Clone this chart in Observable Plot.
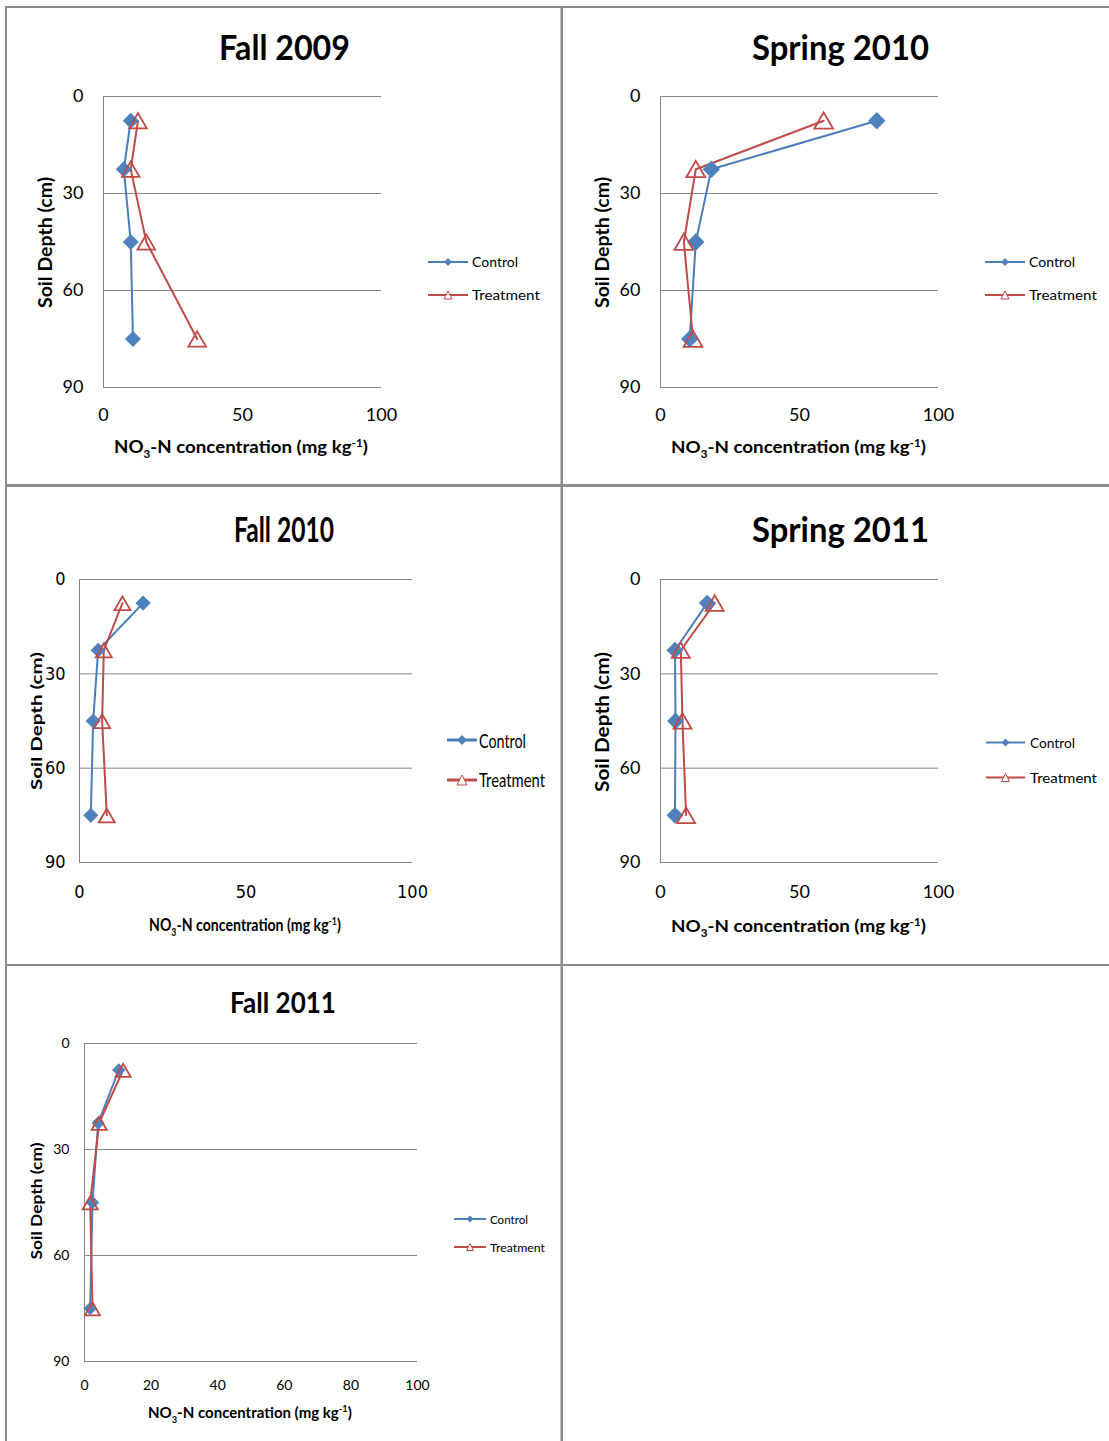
<!DOCTYPE html>
<html><head><meta charset="utf-8">
<script src="https://cdn.jsdelivr.net/npm/d3@7"></script>
<script src="https://cdn.jsdelivr.net/npm/@observablehq/plot@0.6"></script>
<style>
html,body{margin:0;padding:0;background:#fff;}
#root{position:relative;width:1109px;height:1441px;overflow:hidden;background:#fff;}
.pw{position:absolute;}
#overlay{position:absolute;left:0;top:0;pointer-events:none;}
</style></head><body><div id="root"></div>
<script>
// ---------------- data ----------------
const depths = [7.5, 22.5, 45, 75];            // mid-point soil depth (cm)
const seasons = ["Fall 2009", "Spring 2010", "Fall 2010", "Spring 2011", "Fall 2011"];
const seriesNames = ["Control", "Treatment"];
const controlFall2009     = [9.8, 7.3, 9.8, 10.6];
const treatmentFall2009   = [12.4, 9.8, 15.4, 33.7];
const controlSpring2010   = [77.8, 18.3, 12.7, 10.5];
const treatmentSpring2010 = [58.7, 12.7, 8.4, 11.7];
const controlFall2010     = [19.1, 5.6, 4.1, 3.4];
const treatmentFall2010   = [12.9, 7.3, 6.8, 8.2];
const controlSpring2011   = [16.8, 5.2, 5.4, 5.2];
const treatmentSpring2011 = [19.5, 7.3, 7.9, 9.2];
const controlFall2011     = [10.3, 4.1, 2.4, 1.7];
const treatmentFall2011   = [11.6, 4.4, 1.7, 2.4];
const yTicks = [0, 30, 60, 90];
const xTicksCoarse = [0, 50, 100];
const xTicksFine = [0, 20, 40, 60, 80, 100];
const yAxisTitle = "Soil Depth (cm)";

// ---------------- style ----------------
const LATO = "Lato, 'Open Sans', sans-serif";
const NARROW = "'Liberation Sans Narrow', 'DejaVu Sans Condensed', 'Arial Narrow', sans-serif";
const BLUE = "#4A7EBB", BLUEF = "#4F81BD", RED = "#BE4B48", GRID = "#868686", BORDER = "#8c8c8c";

const panels = [
  {s:0, ctrl:controlFall2009, trt:treatmentFall2009, px:103, py:96, pw:278, ph:291, xTicks:xTicksCoarse,
   tickFont:LATO, tickFs:18, yPad:20, xPad:21, dR:7.2, tR:8.4,
   title:{cx:284.5, base:60, w:131, fs:35}, yt:{bx:51.5, cy:242.5, len:131, fs:18}, xt:{cx:241, base:453, len:254, fs:17},
   lg:{x1:428, x2:468, tx:472, y:[262,295], base:[267,300], len:[46,68], fs:14, lw:2, mk:4}},
  {s:1, ctrl:controlSpring2010, trt:treatmentSpring2010, px:660, py:96, pw:278, ph:291, xTicks:xTicksCoarse,
   tickFont:LATO, tickFs:18, yPad:20, xPad:21, dR:7.8, tR:9,
   title:{cx:840.5, base:60, w:177, fs:35}, yt:{bx:608.5, cy:242.5, len:131, fs:18}, xt:{cx:798.5, base:453, len:255, fs:17},
   lg:{x1:985, x2:1025, tx:1029, y:[262,295], base:[267,300], len:[46,68], fs:14, lw:2, mk:4}},
  {s:2, ctrl:controlFall2010, trt:treatmentFall2010, px:79, py:579, pw:333, ph:283, xTicks:xTicksCoarse,
   tickFont:NARROW, tickFs:18, yPad:14, xPad:23, dR:6.8, tR:7.6,
   title:{cx:284, base:542, w:100, fs:35}, yt:{bx:41.5, cy:721, len:138, fs:15}, xt:{cx:245, base:931, len:192, fs:17},
   lg:{x1:447, x2:477, tx:479, y:[740,780], base:[748,787], len:[47,66], fs:20, lw:3, mk:5}},
  {s:3, ctrl:controlSpring2011, trt:treatmentSpring2011, px:660, py:579, pw:278, ph:283, xTicks:xTicksCoarse,
   tickFont:LATO, tickFs:18, yPad:20, xPad:23, dR:7.6, tR:8.6,
   title:{cx:840.5, base:542, w:177, fs:35}, yt:{bx:608.5, cy:722, len:140, fs:18}, xt:{cx:798.5, base:932, len:255, fs:17},
   lg:{x1:986, x2:1025, tx:1030, y:[742.5,777.5], base:[748,783], len:[45,67], fs:14, lw:2, mk:4}},
  {s:4, ctrl:controlFall2011, trt:treatmentFall2011, px:84, py:1043, pw:333, ph:318, xTicks:xTicksFine,
   tickFont:LATO, tickFs:14, yPad:15, xPad:19, dR:6, tR:7.2,
   title:{cx:283, base:1013, w:106, fs:29}, yt:{bx:41.5, cy:1201, len:117, fs:15}, xt:{cx:250, base:1418, len:204, fs:15},
   lg:{x1:454, x2:486, tx:490, y:[1219,1247], base:[1224,1252], len:[38,55], fs:12, lw:2, mk:3.5}}
];

const root = document.getElementById("root");

function drawPanel(p) {
  const mL = 70, mR = 30, mT = 20, mB = 50;
  const ctrl = depths.map((d, i) => ({depth: d, conc: p.ctrl[i], series: seriesNames[0]}));
  const trt = depths.map((d, i) => ({depth: d, conc: p.trt[i], series: seriesNames[1]}));
  const chart = Plot.plot({
    width: p.pw + mL + mR, height: p.ph + mT + mB,
    marginLeft: mL, marginRight: mR, marginTop: mT, marginBottom: mB,
    style: {background: "transparent", fontFamily: p.tickFont, fontSize: p.tickFs + "px", color: "#000", overflow: "visible"},
    x: {domain: [0, 100]},
    y: {domain: [0, 90], reverse: true},
    marks: [
      Plot.gridY(yTicks, {stroke: GRID, strokeOpacity: 1, strokeWidth: 1}),
      Plot.ruleX([0], {stroke: GRID, strokeWidth: 1}),
      Plot.axisY(yTicks, {tickSize: 0, tickPadding: p.yPad, label: null, fontSize: p.tickFs}),
      Plot.axisX(p.xTicks, {tickSize: 0, tickPadding: p.xPad, label: null, fontSize: p.tickFs}),
      Plot.line(ctrl, {x: "conc", y: "depth", stroke: BLUE, strokeWidth: 2}),
      Plot.line(trt, {x: "conc", y: "depth", stroke: RED, strokeWidth: 2}),
      Plot.dot(ctrl, {x: "conc", y: "depth", symbol: "diamond2", r: p.dR, fill: BLUEF, stroke: "none"}),
      Plot.dot(trt, {x: "conc", y: "depth", symbol: "triangle2", r: p.tR, fill: "none", stroke: RED, strokeWidth: 1.8, dy: 2.5})
    ]
  });
  const w = document.createElement("div");
  w.className = "pw";
  w.style.left = (p.px - mL) + "px";
  w.style.top = (p.py - mT) + "px";
  w.appendChild(chart);
  root.appendChild(w);
}
panels.forEach(drawPanel);

// ---------------- overlay: borders, titles, axis titles, legends ----------------
const ov = d3.select(root).append("svg").attr("id", "overlay").attr("width", 1109).attr("height", 1441);
const rects = [
  [5, 6, 1104, 2], [5, 6, 2, 1435],
  [560.5, 6, 2.5, 1435],
  [5, 484, 1104, 3],
  [5, 964, 1104, 2]
];
rects.forEach(r => ov.append("rect").attr("x", r[0]).attr("y", r[1]).attr("width", r[2]).attr("height", r[3]).attr("fill", BORDER));

function addText(x, y, str, fs, weight, len) {
  const t = ov.append("text").attr("x", x).attr("y", y).attr("font-family", LATO)
    .attr("font-size", fs).attr("font-weight", weight).attr("fill", "#000");
  if (len) t.attr("textLength", len).attr("lengthAdjust", "spacingAndGlyphs");
  t.text(str);
  return t;
}

panels.forEach(p => {
  // title
  addText(p.title.cx - p.title.w / 2, p.title.base, seasons[p.s], p.title.fs, 700, p.title.w);
  // y axis title
  ov.append("text")
    .attr("transform", `translate(${p.yt.bx},${p.yt.cy}) rotate(-90)`)
    .attr("x", -p.yt.len / 2).attr("y", 0)
    .attr("font-family", LATO).attr("font-size", p.yt.fs).attr("font-weight", 700)
    .attr("textLength", p.yt.len).attr("lengthAdjust", "spacingAndGlyphs")
    .text(yAxisTitle);
  // x axis title with sub/superscript, scaled horizontally to the measured width
  const fs = p.xt.fs;
  const g = ov.append("g");
  const xt = g.append("text").attr("x", 0).attr("y", 0)
    .attr("font-family", LATO).attr("font-size", fs).attr("font-weight", 700);
  xt.append("tspan").text("NO");
  xt.append("tspan").attr("dy", 0.3 * fs).attr("font-size", 0.62 * fs).text("3");
  xt.append("tspan").attr("dy", -0.3 * fs).text("-N concentration (mg kg");
  xt.append("tspan").attr("dy", -0.38 * fs).attr("font-size", 0.62 * fs).text("-1");
  xt.append("tspan").attr("dy", 0.38 * fs).text(")");
  let nat = 0;
  try { nat = xt.node().getComputedTextLength(); } catch (e) { nat = 0; }
  if (!nat) nat = p.xt.len;
  const sx = p.xt.len / nat;
  g.attr("transform", `translate(${p.xt.cx - p.xt.len / 2},${p.xt.base}) scale(${sx},1)`);
  // legend
  const lg = p.lg, xm = (lg.x1 + lg.x2) / 2;
  [0, 1].forEach(i => {
    const col = i === 0 ? BLUE : RED;
    ov.append("line").attr("x1", lg.x1).attr("x2", lg.x2).attr("y1", lg.y[i]).attr("y2", lg.y[i])
      .attr("stroke", col).attr("stroke-width", lg.lw);
    if (i === 0) {
      ov.append("path").attr("d", `M${xm},${lg.y[i] - lg.mk}L${xm + lg.mk},${lg.y[i]}L${xm},${lg.y[i] + lg.mk}L${xm - lg.mk},${lg.y[i]}Z`)
        .attr("fill", BLUEF);
    } else {
      const h = lg.mk;
      ov.append("path").attr("d", `M${xm},${lg.y[i] - h}L${xm + h},${lg.y[i] + h}L${xm - h},${lg.y[i] + h}Z`)
        .attr("fill", "#fff").attr("stroke", RED).attr("stroke-width", 1);
    }
    addText(lg.tx, lg.base[i], seriesNames[i], lg.fs, 400, lg.len[i]);
  });
});
</script></body></html>
